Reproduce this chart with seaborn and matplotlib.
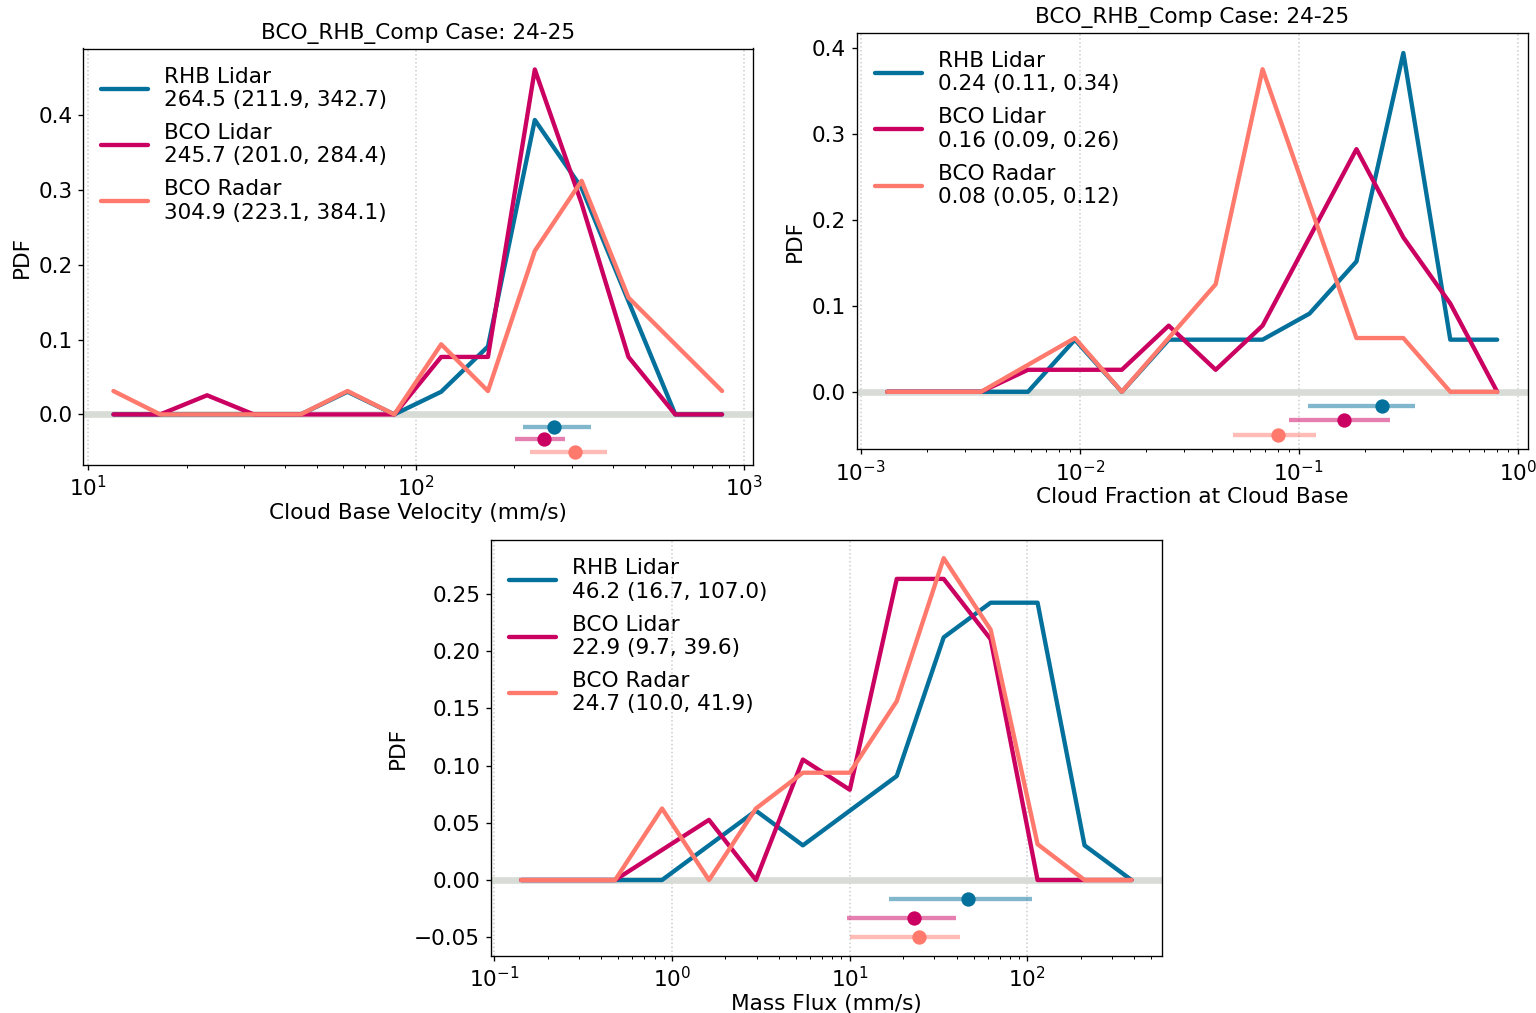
import numpy as np
import pandas as pd
import matplotlib
matplotlib.use("Agg")
import matplotlib.pyplot as plt
import seaborn as sns

# ---------------------------------------------------------------- data
instruments = ["RHB Lidar", "BCO Lidar", "BCO Radar"]
case_title = "BCO_RHB_Comp Case: 24-25"

# Cloud base velocity (mm/s): bin centres and PDFs
velocity_bins = [11.95, 16.60, 23.07, 32.05, 44.54, 61.88, 85.98,
                 119.5, 166.0, 230.7, 320.5, 445.4, 618.8, 859.8]
velocity_rhb_lidar = [0, 0, 0, 0, 0, 0.0303, 0, 0.0303, 0.0909, 0.3939,
                      0.3030, 0.1515, 0, 0]
velocity_bco_lidar = [0, 0, 0.0256, 0, 0, 0, 0, 0.0769, 0.0769, 0.4615,
                      0.2821, 0.0769, 0, 0]
velocity_bco_radar = [0.0313, 0, 0, 0, 0, 0.0313, 0, 0.0938, 0.0313, 0.2188,
                      0.3125, 0.1563, 0.0938, 0.0313]
velocity_median = [264.5, 245.7, 304.9]
velocity_q25 = [211.9, 201.0, 223.1]
velocity_q75 = [342.7, 284.4, 384.1]

# Cloud fraction at cloud base
fraction_bins = [0.001319, 0.002160, 0.003538, 0.005795, 0.009492, 0.01555,
                 0.02546, 0.04171, 0.06831, 0.1119, 0.1833, 0.3002, 0.4917,
                 0.8053]
fraction_rhb_lidar = [0, 0, 0, 0, 0.0606, 0, 0.0606, 0.0606, 0.0606, 0.0909,
                      0.1515, 0.3939, 0.0606, 0.0606]
fraction_bco_lidar = [0, 0, 0, 0.0256, 0.0256, 0.0256, 0.0769, 0.0256,
                      0.0769, 0.1795, 0.2821, 0.1795, 0.1026, 0]
fraction_bco_radar = [0, 0, 0, 0.0313, 0.0625, 0, 0.0625, 0.125, 0.375,
                      0.2188, 0.0625, 0.0625, 0, 0]
fraction_median = [0.24, 0.16, 0.08]
fraction_q25 = [0.11, 0.09, 0.05]
fraction_q75 = [0.34, 0.26, 0.12]

# Mass flux (mm/s)
massflux_bins = [0.1419, 0.2607, 0.4790, 0.8800, 1.617, 2.971, 5.459,
                 10.03, 18.43, 33.86, 62.22, 114.3, 210.1, 386.0]
massflux_rhb_lidar = [0, 0, 0, 0, 0.0303, 0.0606, 0.0303, 0.0606, 0.0909,
                      0.2121, 0.2424, 0.2424, 0.0303, 0]
massflux_bco_lidar = [0, 0, 0, 0.0263, 0.0526, 0, 0.1053, 0.0789, 0.2632,
                      0.2632, 0.2105, 0, 0, 0]
massflux_bco_radar = [0, 0, 0, 0.0625, 0, 0.0625, 0.0938, 0.0938, 0.1563,
                      0.2813, 0.2188, 0.0313, 0, 0]
massflux_median = [46.2, 22.9, 24.7]
massflux_q25 = [16.7, 9.7, 10.0]
massflux_q75 = [107.0, 39.6, 41.9]

# ---------------------------------------------------------------- style
sns.set_style("ticks")
plt.rcParams.update({
    "font.family": ["DejaVu Sans"],
    "font.size": 13,
    "axes.titlesize": 13,
    "axes.labelsize": 13,
    "xtick.labelsize": 13,
    "ytick.labelsize": 13,
    "legend.fontsize": 13,
    "axes.edgecolor": "black",
    "axes.linewidth": 0.8,
    "axes.labelpad": 1.5,
    "text.color": "black",
    "axes.labelcolor": "black",
    "xtick.color": "black",
    "ytick.color": "black",
    "xtick.direction": "out",
    "ytick.direction": "out",
    "xtick.major.size": 2.8,
    "ytick.major.size": 2.8,
    "xtick.minor.size": 1.8,
    "xtick.major.width": 0.8,
    "ytick.major.width": 0.8,
    "xtick.minor.width": 0.6,
})

colors = [sns.xkcd_rgb["ocean blue"], sns.xkcd_rgb["deep pink"],
          sns.xkcd_rgb["salmon"]]
zero_color = sns.xkcd_rgb["light grey"]
summary_rows = [-1 / 60, -2 / 60, -3 / 60]

fig = plt.figure(figsize=(12.8, 1013 / 120), dpi=120)
W, H = 1536, 1013


def axes_px(left, top, right, bottom):
    return fig.add_axes([left / W, 1 - bottom / H, (right - left) / W,
                         (bottom - top) / H])


def panel(ax, bins, pdfs, med, q25, q75, fmt, xlabel, ylim, title=None):
    labels = [f"{name}\n{m:{fmt}} ({a:{fmt}}, {b:{fmt}})"
              for name, m, a, b in zip(instruments, med, q25, q75)]
    df = pd.concat([pd.DataFrame({"x": bins, "pdf": p, "series": lab})
                    for p, lab in zip(pdfs, labels)], ignore_index=True)
    ax.set_xscale("log")
    ax.axhline(0, color=zero_color, lw=4.0, zorder=0.8)
    sns.lineplot(data=df, x="x", y="pdf", hue="series", hue_order=labels,
                 palette=colors, estimator=None, lw=2.6, ax=ax, zorder=2)
    for y, m, a, b, c in zip(summary_rows, med, q25, q75, colors):
        ax.plot([a, b], [y, y], color=c, alpha=0.5, lw=2.6,
                solid_capstyle="butt", zorder=2)
        ax.plot([m], [y], "o", color=c, ms=8.6, mec="none", zorder=3)
    ax.grid(True, axis="x", which="major", linestyle=":", color="#cccccc",
            lw=0.9)
    ax.set_axisbelow(True)
    ax.set_ylim(*ylim)
    ax.set_xlabel(xlabel)
    ax.set_ylabel("PDF", labelpad=4)
    if title:
        ax.set_title(title)
    handles, labs = ax.get_legend_handles_labels()
    ax.legend(handles, labs, loc="upper left", frameon=False,
              handlelength=2.15, handletextpad=0.75, borderaxespad=0.45,
              labelspacing=0.6)


ax1 = axes_px(83, 48.5, 752.5, 464.5)
panel(ax1, velocity_bins,
      [velocity_rhb_lidar, velocity_bco_lidar, velocity_bco_radar],
      velocity_median, velocity_q25, velocity_q75, ".1f",
      "Cloud Base Velocity (mm/s)", (-0.067, 0.4895), case_title)

ax2 = axes_px(856.7, 32.7, 1527.7, 449)
panel(ax2, fraction_bins,
      [fraction_rhb_lidar, fraction_bco_lidar, fraction_bco_radar],
      fraction_median, fraction_q25, fraction_q75, ".2f",
      "Cloud Fraction at Cloud Base", (-0.0665, 0.4175), case_title)

ax3 = axes_px(490.7, 540, 1162, 956)
panel(ax3, massflux_bins,
      [massflux_rhb_lidar, massflux_bco_lidar, massflux_bco_radar],
      massflux_median, massflux_q25, massflux_q75, ".1f",
      "Mass Flux (mm/s)", (-0.0664, 0.2972))

fig.savefig("out.png", dpi=120)
